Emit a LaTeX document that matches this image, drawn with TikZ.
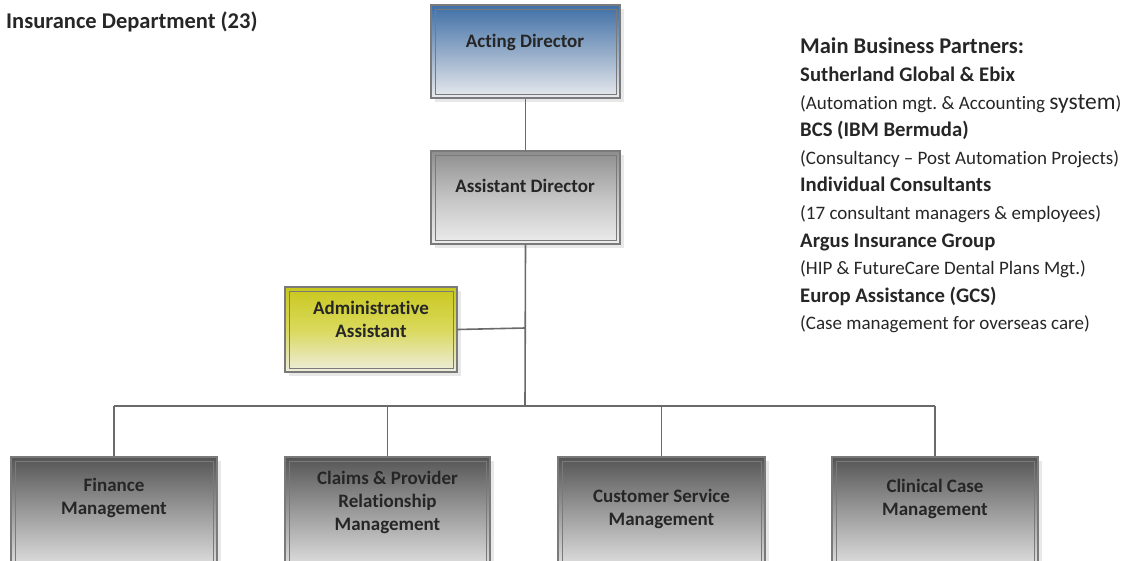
\documentclass[tikz,border=0pt]{standalone}
\usepackage{fontspec}
\setmainfont{Carlito}[Ligatures=NoCommon]
\usetikzlibrary{shadows}
\frenchspacing

\definecolor{linegray}{HTML}{6A6A6A}
\definecolor{framegray}{HTML}{7A7A7A}
\definecolor{textdark}{HTML}{262626}
% fills of the units
\definecolor{blueTop}{HTML}{3F6FA6}
\definecolor{blueMid}{HTML}{93ABC8}
\definecolor{blueBot}{HTML}{E9EBEE}
\definecolor{grayTop}{HTML}{8E8E8E}
\definecolor{grayMid}{HTML}{C4C4C4}
\definecolor{grayBot}{HTML}{EDEDED}
\definecolor{limeTop}{HTML}{C8C71C}
\definecolor{limeMid}{HTML}{DAD95C}
\definecolor{limeBot}{HTML}{EDEDDF}
\definecolor{darkTop}{HTML}{555555}
\definecolor{darkMid}{HTML}{9A9A9A}
\definecolor{darkBot}{HTML}{DDDDDD}

\tikzset{
  unit/.style={
    draw=framegray, line width=1.3pt,
    drop shadow={shadow xshift=4pt, shadow yshift=-4pt, fill=black!9, opacity=1},
    path picture={\draw[framegray, line width=0.8pt]
      ([shift={(4pt,4pt)}]path picture bounding box.south west) rectangle
      ([shift={(-4pt,-4pt)}]path picture bounding box.north east);}
  },
  blueunit/.style={unit, top color=blueTop, bottom color=blueBot, middle color=blueMid},
  grayunit/.style={unit, top color=grayTop, bottom color=grayBot, middle color=grayMid},
  limeunit/.style={unit, top color=limeTop, bottom color=limeBot, middle color=limeMid},
  darkunit/.style={unit, top color=darkTop, bottom color=darkBot, middle color=darkMid},
  boxtext/.style={font=\bfseries\fontsize{19}{23}\selectfont, text=textdark, align=center, inner sep=0pt},
  link/.style={draw=linegray, line width=1.6pt}
}

\begin{document}
\begin{tikzpicture}[x=1pt, y=-1pt]
\useasboundingbox (0,0) rectangle (1124,560);

% title
\node[anchor=west, inner sep=0pt, font=\bfseries\fontsize{22.5}{26}\selectfont, text=textdark] (title) at (6,22) {Insurance Department (23)};

% junction points of the tree
\coordinate (adminjoin) at (525,328);
\coordinate (busL) at (114,406);
\coordinate (busR) at (935,406);
\coordinate (busM) at (525,406);

% boxes
\node[blueunit, minimum width=189pt, minimum height=93pt] (acting) at (525.5,51.5) {};
\node[boxtext] (actingt) at (525,42) {Acting Director};

\node[grayunit, minimum width=189pt, minimum height=93pt] (assist) at (525.5,197.5) {};
\node[boxtext] (assistt) at (525,186) {Assistant Director};

\node[limeunit, minimum width=172pt, minimum height=85pt] (admin) at (371,329.5) {};
\node[boxtext] (admint) at (371,319) {Administrative\\Assistant};

\node[darkunit, minimum width=206pt, minimum height=108pt] (fin) at (114,511) {};
\node[boxtext] (fint) at (114,497.5) {Finance\\Management};

\node[darkunit, minimum width=205pt, minimum height=108pt] (claims) at (387.5,511) {};
\node[boxtext] (claimst) at (387.5,502) {Claims \& Provider\\Relationship\\Management};

\node[darkunit, minimum width=207pt, minimum height=108pt] (cust) at (661.5,511) {};
\node[boxtext] (custt) at (661.5,508.5) {Customer Service\\Management};

\node[darkunit, minimum width=206pt, minimum height=108pt] (clin) at (935,511) {};
\node[boxtext] (clint) at (935,498.5) {Clinical Case\\Management};

% connectors
\draw[link] (acting.south) -- (assist.north);
\draw[link] (assist.south) -- (busM);
\draw[link] (admin.east) -- (adminjoin);
\draw[link] (busL) -- (busR);
\draw[link] (busL) -- (fin.north);
\draw[link] (claims.north |- busL) -- (claims.north);
\draw[link] (cust.north |- busL) -- (cust.north);
\draw[link] (busR) -- (clin.north);

% partners list
\node[anchor=north west, align=left, inner sep=0pt, text=textdark,
      font=\fontsize{19}{27.6}\selectfont] (partners) at (800,38) {%
\textbf{\fontsize{22.5}{27.6}\selectfont Main Business Partners:}\\
\textbf{\fontsize{20.7}{27.6}\selectfont Sutherland Global \& Ebix}\\
(Automation mgt. \& Accounting {\fontsize{23.5}{27.6}\selectfont system})\\
\textbf{\fontsize{20.7}{27.6}\selectfont BCS (IBM Bermuda)}\\
(Consultancy – Post Automation Projects)\\
\textbf{\fontsize{20.7}{27.6}\selectfont Individual Consultants}\\
(17 consultant managers \& employees)\\
\textbf{\fontsize{20.7}{27.6}\selectfont Argus Insurance Group}\\
(HIP \& FutureCare Dental Plans Mgt.)\\
\textbf{\fontsize{20.7}{27.6}\selectfont Europ Assistance (GCS)}\\
(Case management for overseas care)};
\end{tikzpicture}
\end{document}
